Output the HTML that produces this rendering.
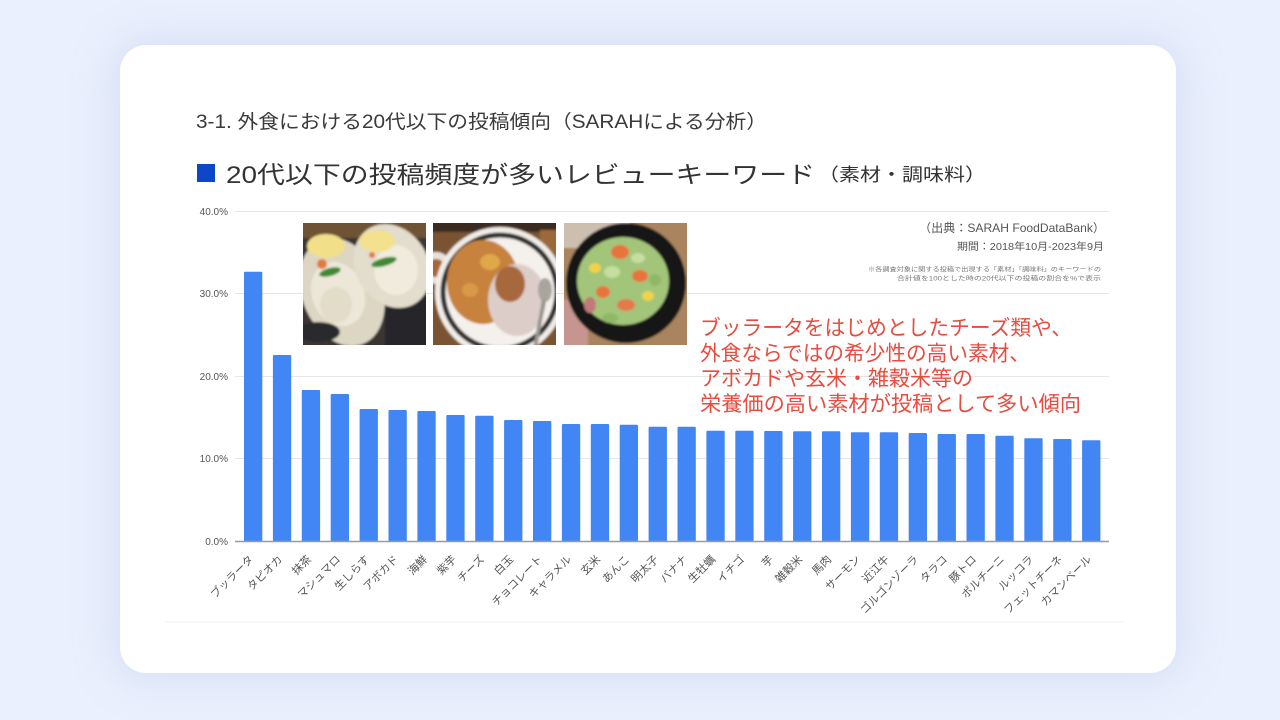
<!DOCTYPE html>
<html>
<head>
<meta charset="utf-8">
<style>
html,body{margin:0;padding:0;}
body{width:1280px;height:720px;overflow:hidden;background:#eaf0fd;position:relative;
font-family:"Liberation Sans","Noto Sans CJK JP",sans-serif;}
.card{position:absolute;left:120px;top:45px;width:1056px;height:628px;background:#fff;border-radius:26px;
box-shadow:0 0 40px 6px rgba(175,192,230,0.35);}
svg{position:absolute;left:0;top:0;}
</style>
</head>
<body>
<div class="card"></div>
<svg width="1280" height="720" viewBox="0 0 1280 720" xmlns="http://www.w3.org/2000/svg" font-family="'Liberation Sans','Noto Sans CJK JP',sans-serif">
<defs>
<filter id="bl" x="-5%" y="-5%" width="110%" height="110%"><feGaussianBlur stdDeviation="1.1"/></filter>
<clipPath id="c1"><rect x="303" y="223" width="123" height="122"/></clipPath>
<clipPath id="c2"><rect x="433" y="223" width="123" height="122"/></clipPath>
<clipPath id="c3"><rect x="564" y="223" width="123" height="122"/></clipPath>
</defs>

<!-- titles -->
<text x="196" y="128" font-size="19" fill="#3a3a3a" textLength="571" lengthAdjust="spacingAndGlyphs">3-1. 外食における20代以下の投稿傾向（SARAHによる分析）</text>
<rect x="197" y="164" width="18" height="18" fill="#0b47c7"/>
<text x="226" y="183" font-size="24" fill="#333" textLength="589" lengthAdjust="spacingAndGlyphs">20代以下の投稿頻度が多いレビューキーワード</text>
<text x="818" y="181" font-size="18" fill="#333" textLength="168" lengthAdjust="spacingAndGlyphs">（素材・調味料）</text>

<!-- chart bottom faint line -->
<line x1="165" y1="622" x2="1125" y2="622" stroke="#f0f0f0" stroke-width="1"/>

<!-- grid -->
<g stroke="#e6e6e6" stroke-width="1">
<line x1="235" y1="211.5" x2="1109" y2="211.5"/>
<line x1="235" y1="293.5" x2="1109" y2="293.5"/>
<line x1="235" y1="376.5" x2="1109" y2="376.5"/>
<line x1="235" y1="458.5" x2="1109" y2="458.5"/>
</g>
<g font-size="10" fill="#555" text-anchor="end">
<text x="228" y="215">40.0%</text>
<text x="228" y="297">30.0%</text>
<text x="228" y="380">20.0%</text>
<text x="228" y="462">10.0%</text>
<text x="228" y="545">0.0%</text>
</g>

<!-- bars -->
<g fill="#4285f4">
<rect x="244" y="271.7" width="18.3" height="269.8" rx="1"/>
<rect x="272.9" y="355" width="18.3" height="186.5" rx="1"/>
<rect x="301.8" y="390" width="18.3" height="151.5" rx="1"/>
<rect x="330.7" y="394" width="18.3" height="147.5" rx="1"/>
<rect x="359.6" y="409" width="18.3" height="132.5" rx="1"/>
<rect x="388.5" y="410" width="18.3" height="131.5" rx="1"/>
<rect x="417.4" y="411" width="18.3" height="130.5" rx="1"/>
<rect x="446.3" y="415" width="18.3" height="126.5" rx="1"/>
<rect x="475.2" y="415.7" width="18.3" height="125.8" rx="1"/>
<rect x="504.1" y="420" width="18.3" height="121.5" rx="1"/>
<rect x="533" y="421" width="18.3" height="120.5" rx="1"/>
<rect x="561.9" y="424" width="18.3" height="117.5" rx="1"/>
<rect x="590.8" y="424" width="18.3" height="117.5" rx="1"/>
<rect x="619.7" y="424.7" width="18.3" height="116.8" rx="1"/>
<rect x="648.6" y="426.7" width="18.3" height="114.8" rx="1"/>
<rect x="677.5" y="426.7" width="18.3" height="114.8" rx="1"/>
<rect x="706.4" y="430.7" width="18.3" height="110.8" rx="1"/>
<rect x="735.3" y="430.7" width="18.3" height="110.8" rx="1"/>
<rect x="764.2" y="431" width="18.3" height="110.5" rx="1"/>
<rect x="793.1" y="431.3" width="18.3" height="110.2" rx="1"/>
<rect x="822" y="431.3" width="18.3" height="110.2" rx="1"/>
<rect x="850.9" y="432.3" width="18.3" height="109.2" rx="1"/>
<rect x="879.8" y="432.3" width="18.3" height="109.2" rx="1"/>
<rect x="908.7" y="433" width="18.3" height="108.5" rx="1"/>
<rect x="937.6" y="434" width="18.3" height="107.5" rx="1"/>
<rect x="966.5" y="434" width="18.3" height="107.5" rx="1"/>
<rect x="995.4" y="435.7" width="18.3" height="105.8" rx="1"/>
<rect x="1024.3" y="438.3" width="18.3" height="103.2" rx="1"/>
<rect x="1053.2" y="439" width="18.3" height="102.5" rx="1"/>
<rect x="1082.1" y="440.3" width="18.3" height="101.2" rx="1"/>
</g>
<line x1="235" y1="541.5" x2="1109" y2="541.5" stroke="#9a9a9a" stroke-width="1.5"/>

<!-- x labels -->
<g font-size="11" fill="#555" text-anchor="end">
<text transform="translate(254,560) rotate(-45)">ブッラータ</text>
<text transform="translate(283,560) rotate(-45)">タピオカ</text>
<text transform="translate(312,560) rotate(-45)">抹茶</text>
<text transform="translate(341,560) rotate(-45)">マシュマロ</text>
<text transform="translate(370,560) rotate(-45)">生しらす</text>
<text transform="translate(399,560) rotate(-45)">アボカド</text>
<text transform="translate(428,560) rotate(-45)">海鮮</text>
<text transform="translate(457,560) rotate(-45)">紫芋</text>
<text transform="translate(485,560) rotate(-45)">チーズ</text>
<text transform="translate(514,560) rotate(-45)">白玉</text>
<text transform="translate(543,560) rotate(-45)">チョコレート</text>
<text transform="translate(572,560) rotate(-45)">キャラメル</text>
<text transform="translate(601,560) rotate(-45)">玄米</text>
<text transform="translate(630,560) rotate(-45)">あんこ</text>
<text transform="translate(659,560) rotate(-45)">明太子</text>
<text transform="translate(688,560) rotate(-45)">バナナ</text>
<text transform="translate(716,560) rotate(-45)">生牡蠣</text>
<text transform="translate(745,560) rotate(-45)">イチゴ</text>
<text transform="translate(774,560) rotate(-45)">芋</text>
<text transform="translate(803,560) rotate(-45)">雑穀米</text>
<text transform="translate(832,560) rotate(-45)">馬肉</text>
<text transform="translate(861,560) rotate(-45)">サーモン</text>
<text transform="translate(890,560) rotate(-45)">近江牛</text>
<text transform="translate(919,560) rotate(-45)">ゴルゴンゾーラ</text>
<text transform="translate(948,560) rotate(-45)">タラコ</text>
<text transform="translate(977,560) rotate(-45)">豚トロ</text>
<text transform="translate(1005,560) rotate(-45)">ポルチーニ</text>
<text transform="translate(1034,560) rotate(-45)">ルッコラ</text>
<text transform="translate(1063,560) rotate(-45)">フェットチーネ</text>
<text transform="translate(1092,560) rotate(-45)">カマンベール</text>
</g>

<!-- photo 1: oysters -->
<g clip-path="url(#c1)">
<g filter="url(#bl)">
<rect x="300" y="220" width="130" height="130" fill="#3a3633"/>
<rect x="300" y="220" width="130" height="18" fill="#6e5236"/>
<rect x="385" y="295" width="45" height="55" fill="#26272b"/>
<ellipse cx="342" cy="292" rx="40" ry="56" transform="rotate(-22 342 292)" fill="#ddd6c3"/>
<ellipse cx="338" cy="294" rx="26" ry="33" transform="rotate(-22 338 294)" fill="#ece7d8"/>
<ellipse cx="336" cy="305" rx="16" ry="18" fill="#e2dcc8"/>
<ellipse cx="392" cy="266" rx="36" ry="44" transform="rotate(-32 392 266)" fill="#e2ddcd"/>
<ellipse cx="396" cy="270" rx="22" ry="25" fill="#f0ebdd"/>
<ellipse cx="326" cy="246" rx="19" ry="12" fill="#f1df8a"/>
<ellipse cx="377" cy="241" rx="18" ry="11" fill="#f3e18d"/>
<ellipse cx="330" cy="272" rx="11" ry="4" transform="rotate(-15 330 272)" fill="#3f8a30"/>
<ellipse cx="384" cy="262" rx="13" ry="4" transform="rotate(-15 384 262)" fill="#3f8a30"/>
<circle cx="322" cy="264" r="5" fill="#e07a3c"/>
<circle cx="372" cy="255" r="3" fill="#e07a3c"/>
<ellipse cx="318" cy="332" rx="22" ry="10" fill="#2a2b2e"/>
</g>
</g>
<!-- photo 2: curry -->
<g clip-path="url(#c2)">
<g filter="url(#bl)">
<rect x="430" y="220" width="130" height="130" fill="#7a5230"/>
<rect x="430" y="220" width="130" height="12" fill="#3a2c22"/>
<rect x="540" y="230" width="20" height="30" fill="#9a6a3a"/>
<circle cx="436" cy="268" r="16" fill="#e8e2da"/>
<circle cx="436" cy="268" r="9" fill="#a8663a"/>
<circle cx="500" cy="292" r="65" fill="#f1ece7"/>
<circle cx="500" cy="292" r="57" fill="none" stroke="#2e2e2e" stroke-width="5"/>
<circle cx="500" cy="292" r="53" fill="#f4f0ec"/>
<ellipse cx="483" cy="282" rx="36" ry="42" fill="#c7823e"/>
<ellipse cx="490" cy="262" rx="10" ry="8" fill="#e0a84a"/>
<ellipse cx="470" cy="290" rx="8" ry="7" fill="#d89a48"/>
<ellipse cx="517" cy="300" rx="29" ry="36" fill="#dccdc8"/>
<ellipse cx="510" cy="284" rx="15" ry="18" fill="#a8683e"/>
<ellipse cx="545" cy="290" rx="7" ry="12" fill="#aaa49f"/>
<line x1="544" y1="300" x2="535" y2="348" stroke="#9a948f" stroke-width="4"/>
</g>
</g>
<!-- photo 3: poke bowl -->
<g clip-path="url(#c3)">
<g filter="url(#bl)">
<rect x="560" y="220" width="130" height="130" fill="#a9845f"/>
<rect x="560" y="220" width="70" height="28" fill="#cdbfb0"/>
<rect x="560" y="300" width="28" height="50" fill="#c79590"/>
<circle cx="626" cy="283" r="60" fill="#161616"/>
<ellipse cx="623" cy="281" rx="46" ry="44" fill="#a2c57a"/>
<ellipse cx="620" cy="252" rx="9" ry="7" fill="#e8733c"/>
<ellipse cx="640" cy="276" rx="8" ry="6" fill="#e8733c"/>
<ellipse cx="603" cy="292" rx="7" ry="6" fill="#e8733c"/>
<ellipse cx="626" cy="305" rx="9" ry="6" fill="#e47a48"/>
<ellipse cx="595" cy="268" rx="6" ry="5" fill="#f0d24a"/>
<ellipse cx="648" cy="296" rx="6" ry="5" fill="#f0d24a"/>
<ellipse cx="590" cy="305" rx="6" ry="8" fill="#c07a7a"/>
<ellipse cx="612" cy="272" rx="8" ry="6" fill="#c6dea0"/>
<ellipse cx="638" cy="258" rx="7" ry="5" fill="#c6dea0"/>
<ellipse cx="655" cy="280" rx="6" ry="6" fill="#8fb866"/>
<ellipse cx="610" cy="318" rx="8" ry="5" fill="#8fb866"/>
</g>
</g>

<!-- source -->
<g fill="#555" text-anchor="end">
<text x="1105" y="232" font-size="12" textLength="186" lengthAdjust="spacingAndGlyphs">（出典：SARAH FoodDataBank）</text>
<text x="1104" y="250" font-size="10" textLength="147" lengthAdjust="spacingAndGlyphs">期間：2018年10月-2023年9月</text>
<text x="1101" y="271.5" font-size="6" fill="#777" textLength="233" lengthAdjust="spacingAndGlyphs">※各調査対象に関する投稿で出現する「素材」「調味料」のキーワードの</text>
<text x="1101" y="280.5" font-size="6" fill="#777" textLength="204" lengthAdjust="spacingAndGlyphs">合計値を100とした時の20代以下の投稿の割合を%で表示</text>
</g>

<!-- red annotation -->
<g font-size="21" fill="#e64c3f">
<text x="700" y="335" textLength="372" lengthAdjust="spacingAndGlyphs">ブッラータをはじめとしたチーズ類や、</text>
<text x="700" y="360.3" textLength="330" lengthAdjust="spacingAndGlyphs">外食ならではの希少性の高い素材、</text>
<text x="700" y="385.6" textLength="273" lengthAdjust="spacingAndGlyphs">アボカドや玄米・雑穀米等の</text>
<text x="700" y="411" textLength="381" lengthAdjust="spacingAndGlyphs">栄養価の高い素材が投稿として多い傾向</text>
</g>
</svg>
</body>
</html>
